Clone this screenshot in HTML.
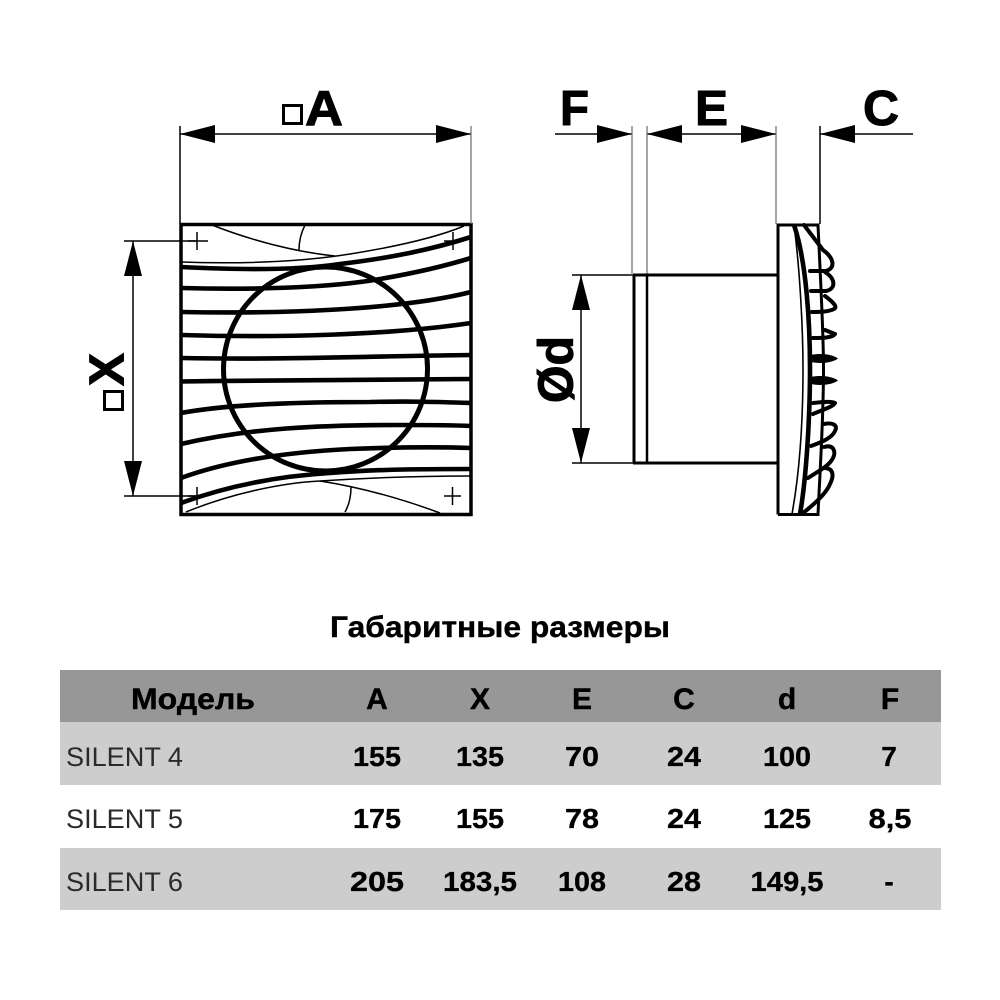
<!DOCTYPE html>
<html>
<head>
<meta charset="utf-8">
<style>
html,body{margin:0;padding:0;background:#fff;}
svg{display:block;}
text{font-family:"Liberation Sans","Noto Sans CJK SC",sans-serif;fill:#000;}
.b{font-weight:bold;stroke:#000;stroke-width:.4px;}
.big{font-weight:bold;font-size:49px;stroke:#000;stroke-width:1px;}
.h{font-weight:bold;font-size:30px;text-anchor:middle;stroke:#000;stroke-width:.4px;}
.v{font-weight:bold;font-size:28px;text-anchor:middle;stroke:#000;stroke-width:.3px;}
.m{font-size:27px;fill:#2a2a2a;}
.t{fill:none;stroke:#000;stroke-width:1.5;}
.k{fill:none;stroke:#000;stroke-width:4.6;}
.bl{fill:none;stroke:#000;stroke-linejoin:round;stroke-linecap:round;}
.g{stroke:#777;stroke-width:1.3;}
</style>
</head>
<body>
<svg width="1000" height="1000" viewBox="0 0 1000 1000" xmlns="http://www.w3.org/2000/svg">
<rect width="1000" height="1000" fill="#fff"/>

<!-- front view -->
<rect x="181" y="224.500" width="290" height="290" fill="none" stroke="#000" stroke-width="3.500"/>
<circle cx="325.500" cy="369" r="102" fill="none" stroke="#000" stroke-width="5"/>
<g class="k">
<path d="M181 267C240 270 300 270 340 264C390 258 430 250 471 237"/>
<path d="M181 288C250 290 330 288 380 279C415 273 445 266 471 258"/>
<path d="M181 312C280 314 400 310 471 292"/>
<path d="M181 335C280 338 390 335 471 323"/>
<path d="M181 358C280 360 380 356 471 355"/>
<path d="M181 381.500C280 380 380 379 471 379"/>
<path d="M181 413C230 404 300 402 370 402C410 401 440 402 471 403"/>
<path d="M181 444C250 428 320 425 400 425C430 425 450 425 471 426"/>
<path d="M181 478C230 460 290 452 350 449C400 447 440 447 471 448"/>
<path d="M181 503C230 485 280 476 330 473C380 469 430 469 471 469"/>
</g>
<g class="t">
<path d="M181 262C240 264 300 262 350 254C400 246 440 236 464 226"/>
<path d="M212 225C250 240 295 252 335 256"/>
<path d="M305 225C301 233 299 241 299 250"/>
<path d="M186 512C230 494 280 483 320 481C380 477 430 476 471 476"/>
<path d="M320 481C365 488 405 500 440 513"/>
<path d="M351 487C351 497 349 505 345 512"/>
<path d="M188 241H208M197 232V250"/>
<path d="M444 241H462M453 232V250"/>
<path d="M188 496H206M197 487V505"/>
<path d="M444 496H461M452.500 487V505"/>
<path d="M124 241H197M124 496H197"/>
<path d="M133 241V496"/>
<path d="M180 126V224M180 134H471"/>
</g>
<path class="g" d="M471 126V224" fill="none"/>
<polygon points="180,134 215,125 215,143"/>
<polygon points="471,134 436,125 436,143"/>
<polygon points="133,241 124,276 142,276"/>
<polygon points="133,496 124,461 142,461"/>
<rect x="283.500" y="105.500" width="18" height="18" fill="none" stroke="#000" stroke-width="3"/>
<text class="big" x="305" y="125" textLength="38" lengthAdjust="spacingAndGlyphs">A</text>
<rect x="104.500" y="391.500" width="18" height="18" fill="none" stroke="#000" stroke-width="3"/>
<text class="big" transform="translate(123.500 386) rotate(-90)" x="0" y="0" textLength="33" lengthAdjust="spacingAndGlyphs">X</text>

<!-- side dimensions -->
<g class="t">
<path d="M555 134H632M647 134H776M820 134H913"/>
<path d="M820 126V224"/>
<path d="M572 275H633M572 463H633"/>
<path d="M581 275V463"/>
</g>
<path class="g" d="M632 126V275M647 126V275M776 126V224" fill="none"/>
<polygon points="632,134 597,125 597,143"/>
<polygon points="647,134 682,125 682,143"/>
<polygon points="776,134 741,125 741,143"/>
<polygon points="820,134 855,125 855,143"/>
<polygon points="581,275 572,310 590,310"/>
<polygon points="581,463 572,428 590,428"/>
<text class="big" x="560" y="125" textLength="29" lengthAdjust="spacingAndGlyphs">F</text>
<text class="big" x="695" y="125" textLength="33" lengthAdjust="spacingAndGlyphs">E</text>
<text class="big" x="863" y="125" textLength="36" lengthAdjust="spacingAndGlyphs">C</text>
<text class="big" transform="translate(572.500 403) rotate(-90)" x="0" y="0" textLength="67" lengthAdjust="spacingAndGlyphs">Ød</text>

<!-- side view -->
<g fill="none" stroke="#000">
<path d="M634 275V463" stroke-width="3"/>
<path d="M647 275V463" stroke-width="2.500"/>
<path d="M633 275H777M633 463H777" stroke-width="3"/>
<path d="M778 514.500V225H818C820 270 823.500 330 823.500 369C823.500 420 820 470 818 514.500H778" stroke-width="3"/>
<path d="M794 225C800 270 803 330 803 369C803 420 800 470 792 514" stroke-width="1.600"/>
<path d="M794 225C806 260 810 320 810 369C810 420 806 480 800 514" stroke-width="4.600"/>
</g>
<g class="bl" style="stroke-width:4px">
<path d="M804 225L823 250C834 258 836 268 826 271H810"/>
<path d="M825 272C836 279 836 289 826 291H811"/>
<path d="M825 296C833 302 838 307 834 309C828 312 820 312 812 312"/>
<path d="M825 330L835 334C832 338 822 338 813 338"/>
<path d="M813 403C822 402 832 401 835 403C833 407 822 410 813 414"/>
<path d="M824 424C834 422 838 426 835 431C832 438 822 442 811 446"/>
<path d="M824 447C834 444 836 452 833 458C829 466 820 470 808 478"/>
<path d="M824 468C834 468 834 476 830 484C826 494 812 506 803 513"/>
</g>
<path d="M811 355C820 353 832 354 838 358.500C832 363 820 364 811 362Z"/>
<path d="M811 377C820 375 832 376 838 380.500C832 385 820 386 811 384Z"/>

<!-- title -->
<text class="b" x="330" y="637" font-size="30" textLength="340" lengthAdjust="spacingAndGlyphs">Габаритные размеры</text>

<!-- table -->
<rect x="60" y="670" width="881" height="52" fill="#979797"/>
<rect x="60" y="722" width="881" height="63" fill="#cdcdcd"/>
<rect x="60" y="848" width="881" height="62" fill="#cdcdcd"/>

<text class="b" x="131" y="709" font-size="30" textLength="124" lengthAdjust="spacingAndGlyphs">Модель</text>
<text class="h" x="377" y="709">A</text>
<text class="h" x="480" y="709">X</text>
<text class="h" x="582" y="709">E</text>
<text class="h" x="684" y="709">C</text>
<text class="h" x="787" y="709">d</text>
<text class="h" x="890" y="709">F</text>

<text class="m" x="66" y="766" textLength="117" lengthAdjust="spacingAndGlyphs">SILENT 4</text>
<text class="v" x="377" y="766" textLength="48" lengthAdjust="spacingAndGlyphs">155</text>
<text class="v" x="480" y="766" textLength="48" lengthAdjust="spacingAndGlyphs">135</text>
<text class="v" x="582" y="766" textLength="34" lengthAdjust="spacingAndGlyphs">70</text>
<text class="v" x="684" y="766" textLength="34" lengthAdjust="spacingAndGlyphs">24</text>
<text class="v" x="787" y="766" textLength="48" lengthAdjust="spacingAndGlyphs">100</text>
<text class="v" x="889" y="766">7</text>

<text class="m" x="66" y="828" textLength="117" lengthAdjust="spacingAndGlyphs">SILENT 5</text>
<text class="v" x="377" y="828" textLength="48" lengthAdjust="spacingAndGlyphs">175</text>
<text class="v" x="480" y="828" textLength="48" lengthAdjust="spacingAndGlyphs">155</text>
<text class="v" x="582" y="828" textLength="34" lengthAdjust="spacingAndGlyphs">78</text>
<text class="v" x="684" y="828" textLength="34" lengthAdjust="spacingAndGlyphs">24</text>
<text class="v" x="787" y="828" textLength="48" lengthAdjust="spacingAndGlyphs">125</text>
<text class="v" x="890" y="828" textLength="43" lengthAdjust="spacingAndGlyphs">8,5</text>

<text class="m" x="66" y="891" textLength="117" lengthAdjust="spacingAndGlyphs">SILENT 6</text>
<text class="v" x="377" y="891" textLength="54" lengthAdjust="spacingAndGlyphs">205</text>
<text class="v" x="480" y="891" textLength="74" lengthAdjust="spacingAndGlyphs">183,5</text>
<text class="v" x="582" y="891" textLength="48" lengthAdjust="spacingAndGlyphs">108</text>
<text class="v" x="684" y="891" textLength="34" lengthAdjust="spacingAndGlyphs">28</text>
<text class="v" x="787" y="891" textLength="73" lengthAdjust="spacingAndGlyphs">149,5</text>
<text class="v" x="889" y="891">-</text>
</svg>
</body>
</html>
